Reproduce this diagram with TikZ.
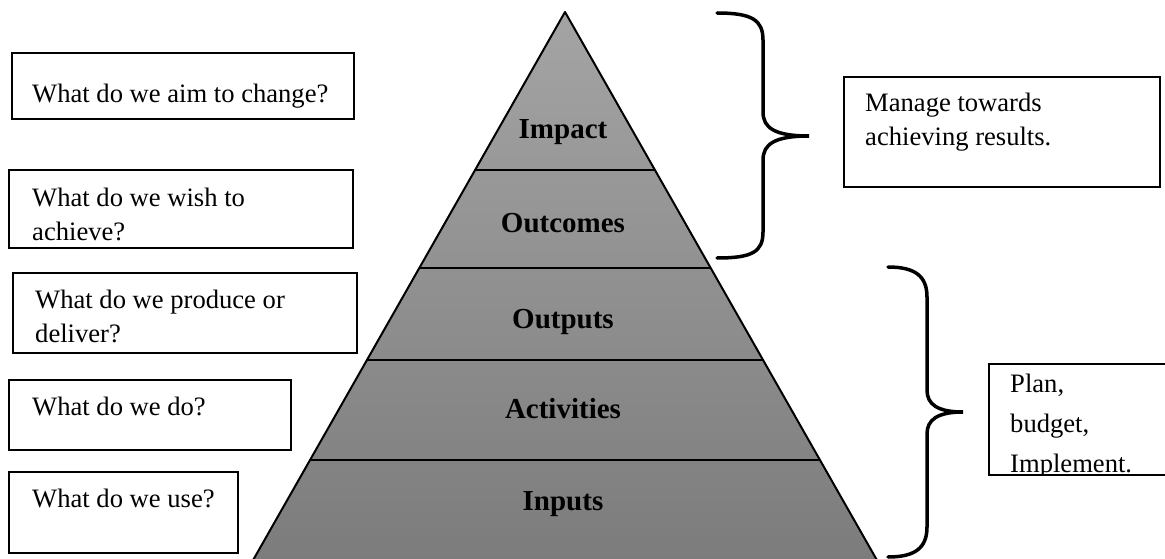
\documentclass[tikz,border=0pt]{standalone}
\usepackage{fontspec}
\setmainfont{Liberation Serif}
\usetikzlibrary{calc}

\definecolor{pyrtop}{RGB}{164,164,164}
\definecolor{pyrbot}{RGB}{124,124,124}

\tikzset{
  qtext/.style={anchor=base west, inner sep=0pt, align=left, font=\fontsize{26.6}{34}\selectfont},
  lvl/.style={anchor=base, inner sep=0pt, font=\fontsize{29}{32}\selectfont\bfseries},
  qbox/.style={draw, line width=1.8pt},
  pyr/.style={draw, line width=2pt, line join=round},
  brace/.style={draw, line width=3.5pt, line cap=round},
}

\begin{document}
\begin{tikzpicture}[x=1pt,y=-1pt]

        \useasboundingbox (0,0) rectangle (1165,559) ;
        \fill [white] (0,0) rectangle (1165,559) ;

        % pyramid
        \coordinate (top) at (565,12) ;
        \coordinate (bl) at (252,562) ;
        \coordinate (br) at (878,562) ;
        \shade [top color=pyrtop, bottom color=pyrbot] (top) -- (bl) -- (br) -- cycle ;
        \draw [pyr] (top) -- (bl) -- (br) -- cycle ;

        \draw [pyr] ($(top)!0.2873!(bl)$) to ($(top)!0.2873!(br)$) ;
        \draw [pyr] ($(top)!0.4655!(bl)$) to ($(top)!0.4655!(br)$) ;
        \draw [pyr] ($(top)!0.6327!(bl)$) to ($(top)!0.6327!(br)$) ;
        \draw [pyr] ($(top)!0.8145!(bl)$) to ($(top)!0.8145!(br)$) ;

        \node [lvl] (impact) at (563,139) {Impact} ;
        \node [lvl] (outcomes) at (563,232) {Outcomes} ;
        \node [lvl] (outputs) at (563,328) {Outputs} ;
        \node [lvl] (activities) at (563,418) {Activities} ;
        \node [lvl] (inputs) at (563,510) {Inputs} ;

        % questions on the left (base = last line)
        \draw [qbox] (12,53) rectangle (354,119) ;
        \draw [qbox] (9,170) rectangle (353,248) ;
        \draw [qbox] (13,273) rectangle (357,353) ;
        \draw [qbox] (9,380) rectangle (291,450) ;
        \draw [qbox] (9,472) rectangle (238,553) ;

        \node [qtext] (q1) at (32,103) {What do we aim to change?} ;
        \node [qtext] (q2) at (32,240) {What do we wish to\\achieve?} ;
        \node [qtext] (q3) at (35,342) {What do we produce or\\deliver?} ;
        \node [qtext] (q4) at (32,415) {What do we do?} ;
        \node [qtext] (q5) at (32,507) {What do we use?} ;

        % braces
        \draw [brace] (717,13) .. controls (752,13) and (763,20) .. (763,40)
              -- (763,112) .. controls (763,128) and (775,136) .. (809,136)
              .. controls (775,136) and (763,144) .. (763,160)
              -- (763,232) .. controls (763,252) and (752,258) .. (717,258) ;
        \draw [brace] (888,267) .. controls (915,267) and (927,276) .. (927,297)
              -- (927,390) .. controls (927,404) and (937,412) .. (963,412)
              .. controls (937,412) and (927,420) .. (927,434)
              -- (927,527) .. controls (927,548) and (915,557) .. (888,557) ;

        % notes on the right
        \draw [qbox] (844,77) rectangle (1160,187) ;
        \node [qtext] (manage) at (865,146) {Manage towards\\achieving results.} ;

        \begin{scope}
          \clip (989,364) rectangle (1170,475) ;
          \node [qtext, font=\fontsize{26.6}{40}\selectfont] (plan) at (1010,472) {Plan,\\budget,\\Implement.} ;
        \end{scope}
        \draw [qbox] (989,364) rectangle (1170,475) ;

\end{tikzpicture}
\end{document}
